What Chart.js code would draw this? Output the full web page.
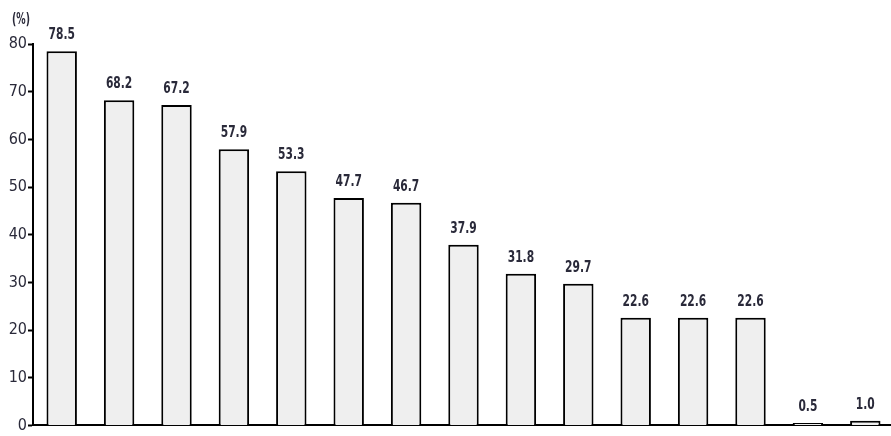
<!DOCTYPE html>
<html>
<head>
<meta charset="utf-8">
<script src="https://cdn.jsdelivr.net/npm/chart.js@4/dist/chart.umd.min.js"></script>
<style>
html,body{margin:0;padding:0;background:#fff;overflow:hidden;}
#wrap{width:894px;height:436px;}
</style>
</head>
<body>
<div id="wrap"><canvas id="c" width="894" height="436"></canvas></div>
<script>
const categories = ["1","2","3","4","5","6","7","8","9","10","11","12","13","14","15"];
const values = [78.5, 68.2, 67.2, 57.9, 53.3, 47.7, 46.7, 37.9, 31.8, 29.7, 22.6, 22.6, 22.6, 0.5, 1.0];
const yTicks = [0,10,20,30,40,50,60,70,80];
const unitLabel = "(%)";

const FONT = "'DejaVu Sans Condensed','Liberation Sans Narrow','Liberation Sans',sans-serif";

const labelPlugin = {
  id: 'labels',
  afterDatasetsDraw(chart) {
    const ctx = chart.ctx;
    const meta = chart.getDatasetMeta(0);
    ctx.save();
    ctx.fillStyle = '#2a2a3a';
    ctx.textAlign = 'center';
    ctx.textBaseline = 'bottom';
    meta.data.forEach((bar, i) => {
      ctx.save();
      ctx.translate(bar.x, bar.y - 8);
      ctx.scale(0.85, 1.15);
      ctx.font = "bold 14px " + FONT;
      ctx.fillText(values[i].toFixed(1), 0, 0);
      ctx.restore();
    });
    ctx.save();
    ctx.translate(21, 28);
    ctx.scale(0.8, 1.25);
    ctx.font = "bold 13px " + FONT;
    ctx.textAlign = 'center';
    ctx.textBaseline = 'bottom';
    ctx.fillText(unitLabel, 0, 0);
    ctx.restore();
    ctx.restore();
  }
};

new Chart(document.getElementById('c'), {
  type: 'bar',
  data: {
    labels: categories,
    datasets: [{
      data: values,
      backgroundColor: '#efefef',
      borderColor: '#000',
      borderWidth: 2,
      barPercentage: 0.53,
      categoryPercentage: 1.0
    }]
  },
  options: {
    responsive: false,
    animation: false,
    layout: { padding: { top: 44, bottom: 8, left: 0, right: 0 } },
    plugins: { legend: { display: false }, tooltip: { enabled: false } },
    scales: {
      x: {
        ticks: { display: false },
        grid: { display: false, drawTicks: false },
        border: { color: '#000', width: 2 }
      },
      y: {
        min: 0, max: 80,
        afterBuildTicks(axis) { axis.ticks = yTicks.map(v => ({ value: v })); },
        afterFit(axis) { axis.width = 33; },
        ticks: {
          color: '#2a2a3a',
          font: { family: FONT, size: 16 },
          padding: 1
        },
        grid: { drawOnChartArea: false, tickLength: 5, color: '#000', tickWidth: 2 },
        border: { color: '#000', width: 2 }
      }
    }
  },
  plugins: [labelPlugin]
});
</script>
</body>
</html>
